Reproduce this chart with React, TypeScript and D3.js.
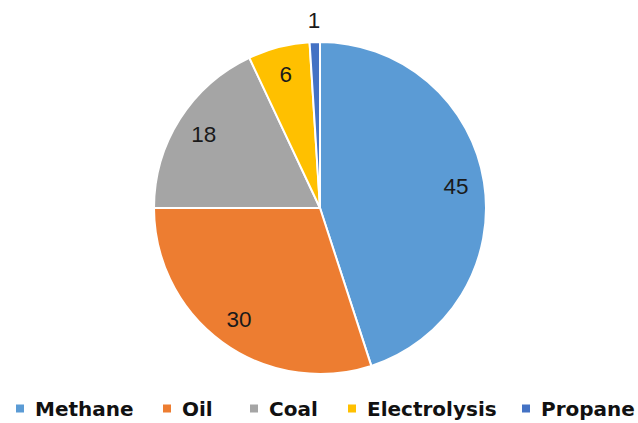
import React from "react";
import * as d3 from "d3";

// Share of hydrogen production by source
const sources = ["Methane", "Oil", "Coal", "Electrolysis", "Propane"];
const shares = [45, 30, 18, 6, 1];
const colors = ["#5B9BD5", "#ED7D31", "#A5A5A5", "#FFC000", "#4472C4"];
// Values below this share get their label outside the pie
const outsideThreshold = 2;

const W = 638;
const H = 423;
const cx = 320;
const cy = 208;
const radius = 166;

// Legend text start positions along the bottom row
const legendX = [35, 182, 269, 367, 541];
const legendY = 409;

type Datum = { name: string; value: number; color: string };

export default function App() {
  const data: Datum[] = sources.map((name, i) => ({
    name,
    value: shares[i],
    color: colors[i],
  }));

  const pie = d3
    .pie<Datum>()
    .sort(null)
    .value((d) => d.value)
    .startAngle(0)
    .endAngle(2 * Math.PI);

  const arcs = pie(data);
  const arc = d3.arc<d3.PieArcDatum<Datum>>().innerRadius(0).outerRadius(radius);
  const inLabel = d3
    .arc<d3.PieArcDatum<Datum>>()
    .innerRadius(radius * 0.83)
    .outerRadius(radius * 0.83);
  const outLabel = d3
    .arc<d3.PieArcDatum<Datum>>()
    .innerRadius(radius + 22)
    .outerRadius(radius + 22);

  return (
    <svg
      width={W}
      height={H}
      style={{ position: "absolute", left: 0, top: 0, background: "#fff" }}
    >
      <g transform={`translate(${cx},${cy})`}>
        {arcs.map((a) => (
          <path
            key={a.data.name}
            d={arc(a) ?? ""}
            fill={a.data.color}
            stroke="#fff"
            strokeWidth={2}
            strokeLinejoin="round"
          />
        ))}
        {arcs.map((a) => {
          const [x, y] =
            a.data.value < outsideThreshold
              ? outLabel.centroid(a)
              : inLabel.centroid(a);
          return (
            <text
              key={a.data.name}
              x={x}
              y={y}
              textAnchor="middle"
              dominantBaseline="central"
              fontFamily="'Liberation Sans', Arial, sans-serif"
              fontSize={22.5}
              fill="#1a1a1a"
            >
              {a.data.value}
            </text>
          );
        })}
      </g>
      <g fontFamily="'DejaVu Sans', Verdana, sans-serif" fontWeight="bold" fontSize={20}>
        {data.map((d, i) => (
          <g key={d.name}>
            <rect
              x={legendX[i] - 19}
              y={legendY - 4.5}
              width={8}
              height={8}
              fill={d.color}
            />
            <text
              x={legendX[i]}
              y={legendY}
              dominantBaseline="central"
              fill="#111"
            >
              {d.name}
            </text>
          </g>
        ))}
      </g>
    </svg>
  );
}
